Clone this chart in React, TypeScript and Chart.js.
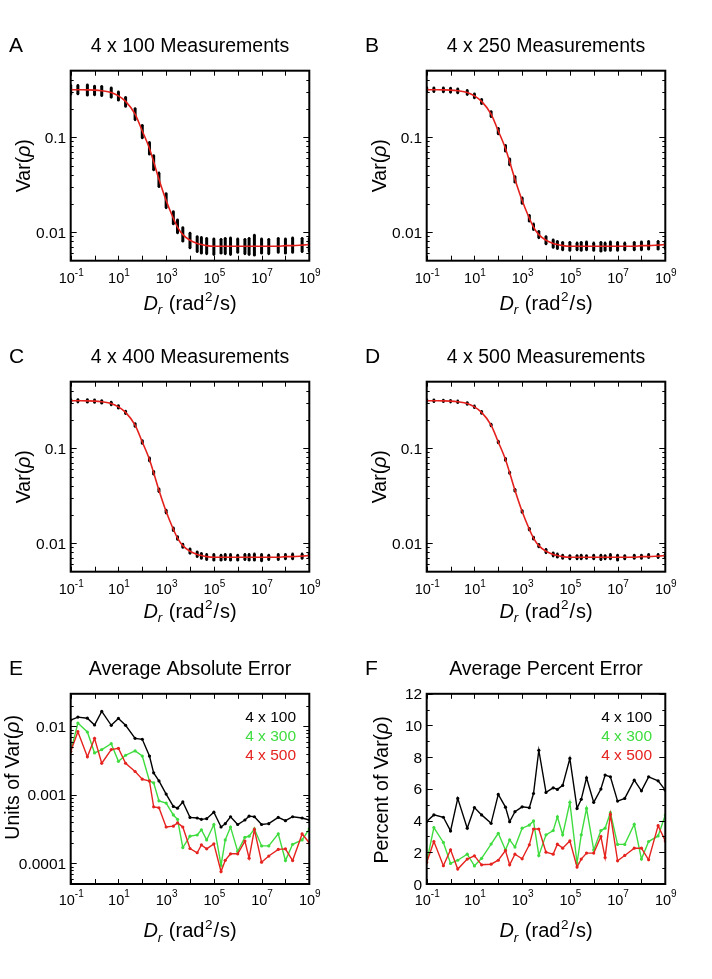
import React, { useEffect, useRef } from "react";
import { Chart, registerables } from "chart.js";

Chart.register(...registerables);

const FONT = '"Liberation Sans", Arial, Helvetica, sans-serif';

// ---------- data ----------
const diffusionRates = [
  0.1, 0.2, 0.5, 1, 2, 5, 10, 20, 50, 100,
  200, 300, 500,
  1e3, 2e3, 3e3, 5e3,
  1e4, 2e4, 3e4, 5e4,
  1e5, 2e5, 3e5, 5e5,
  1e6, 2e6, 3e6, 5e6,
  1e7, 2e7, 5e7,
  1e8, 2e8, 5e8,
  1e9,
];

const fitVar = [
  0.316, 0.315, 0.314, 0.312, 0.307, 0.295, 0.272, 0.238, 0.175, 0.116,
  0.076, 0.055, 0.036,
  0.0215, 0.014, 0.0113, 0.0094,
  0.0082, 0.0076, 0.0074, 0.0072,
  0.0071, 0.0071, 0.0071, 0.0071,
  0.0071, 0.0071, 0.0071, 0.0071,
  0.0071, 0.0071, 0.0071,
  0.0072, 0.0072, 0.0073,
  0.0074,
];

const lowA = [0.282, 0.285, 0.276, 0.278, 0.272, 0.262, 0.245, 0.21, 0.152, 0.098, 0.066, 0.045, 0.03, 0.018, 0.0122, 0.0098, 0.008, 0.0068, 0.0062, 0.006, 0.0059, 0.0058, 0.006, 0.0059, 0.0058, 0.0061, 0.0059, 0.0058, 0.0057, 0.006, 0.0059, 0.0061, 0.006, 0.0061, 0.0062, 0.0063];
const highA = [0.352, 0.35, 0.355, 0.345, 0.342, 0.33, 0.3, 0.262, 0.2, 0.133, 0.088, 0.064, 0.042, 0.0255, 0.0165, 0.0135, 0.0112, 0.0098, 0.009, 0.0088, 0.0086, 0.0085, 0.0084, 0.0086, 0.0087, 0.0085, 0.0084, 0.0086, 0.0093, 0.0085, 0.0084, 0.0086, 0.0085, 0.0087, 0.0086, 0.0086];

const lowB = [0.3, 0.3, 0.298, 0.296, 0.292, 0.28, 0.258, 0.225, 0.164, 0.108, 0.071, 0.051, 0.0335, 0.02, 0.013, 0.0106, 0.0087, 0.0075, 0.0069, 0.0067, 0.0065, 0.0064, 0.0065, 0.0064, 0.0065, 0.0064, 0.0063, 0.0064, 0.0064, 0.0064, 0.0065, 0.0065, 0.0065, 0.0066, 0.0066, 0.0067];
const highB = [0.332, 0.33, 0.331, 0.328, 0.322, 0.31, 0.286, 0.25, 0.186, 0.124, 0.082, 0.059, 0.0385, 0.023, 0.015, 0.0122, 0.0102, 0.009, 0.0083, 0.008, 0.0078, 0.0078, 0.0077, 0.0078, 0.0079, 0.0077, 0.0078, 0.0077, 0.0079, 0.0078, 0.0077, 0.0078, 0.0079, 0.008, 0.008, 0.008];

const lowC = [0.306, 0.305, 0.304, 0.302, 0.297, 0.285, 0.263, 0.23, 0.169, 0.112, 0.073, 0.053, 0.0347, 0.0207, 0.0135, 0.0109, 0.009, 0.0078, 0.0072, 0.0069, 0.0067, 0.0066, 0.0066, 0.0067, 0.0066, 0.0066, 0.0067, 0.0066, 0.0066, 0.0065, 0.0067, 0.0067, 0.0068, 0.0068, 0.0069, 0.007];
const highC = [0.326, 0.325, 0.324, 0.322, 0.317, 0.305, 0.281, 0.246, 0.181, 0.12, 0.079, 0.057, 0.0373, 0.0223, 0.0145, 0.0117, 0.0098, 0.0087, 0.0081, 0.0078, 0.0076, 0.0076, 0.0075, 0.0076, 0.0076, 0.0075, 0.0076, 0.0076, 0.0077, 0.0076, 0.0075, 0.0076, 0.0076, 0.0077, 0.0077, 0.0078];

const lowD = [0.309, 0.308, 0.307, 0.305, 0.3, 0.288, 0.266, 0.232, 0.171, 0.113, 0.074, 0.054, 0.0352, 0.021, 0.0137, 0.011, 0.0091, 0.0079, 0.0073, 0.0071, 0.0069, 0.0068, 0.0068, 0.0068, 0.0069, 0.0068, 0.0067, 0.0068, 0.0068, 0.0066, 0.0068, 0.0069, 0.0069, 0.007, 0.007, 0.0071];
const highD = [0.323, 0.322, 0.321, 0.319, 0.314, 0.302, 0.278, 0.244, 0.179, 0.119, 0.078, 0.056, 0.0368, 0.022, 0.0143, 0.0116, 0.0097, 0.0086, 0.0079, 0.0077, 0.0075, 0.0074, 0.0074, 0.0075, 0.0074, 0.0075, 0.0075, 0.0074, 0.0076, 0.0075, 0.0074, 0.0075, 0.0075, 0.0076, 0.0076, 0.0077];

const absErr100 = [0.0124, 0.0137, 0.0132, 0.0105, 0.0166, 0.0104, 0.0131, 0.0104, 0.0067, 0.0065, 0.0037, 0.0021, 0.0016, 0.00103, 0.00068, 0.00064, 0.00079, 0.00047, 0.00046, 0.00044, 0.00045, 0.00056, 0.00034, 0.00038, 0.00048, 0.00037, 0.00043, 0.00049, 0.00048, 0.00037, 0.00038, 0.00047, 0.00042, 0.00048, 0.00046, 0.00043];
const absErr300 = [0.0043, 0.0112, 0.0083, 0.0041, 0.0046, 0.0056, 0.0031, 0.0038, 0.0044, 0.0037, 0.0016, 0.0015, 0.00082, 0.00076, 0.00051, 0.00044, 0.00017, 0.00025, 0.00026, 0.00031, 0.00022, 0.00037, 0.000094, 0.00022, 0.00034, 0.00015, 0.00024, 0.00025, 0.00032, 0.00018, 0.00018, 0.00027, 0.00011, 0.00019, 0.00022, 0.00032];
const absErr500 = [0.0043, 0.0084, 0.0036, 0.0067, 0.0029, 0.0046, 0.0048, 0.0029, 0.0022, 0.0017, 0.0016, 0.00067, 0.00065, 0.00034, 0.00035, 0.00039, 0.00034, 0.000165, 0.000143, 0.000186, 0.000163, 0.000193, 0.000076, 0.000111, 0.000138, 0.000138, 0.000212, 0.000119, 0.000312, 0.000104, 0.000128, 0.00016, 0.000163, 0.00011, 0.000269, 0.0002];

const pctErr100 = [3.94, 4.36, 4.21, 3.35, 5.4, 3.52, 4.82, 4.36, 3.83, 5.65, 4.85, 3.93, 4.56, 4.87, 4.81, 5.71, 8.44, 5.78, 6.07, 5.97, 6.22, 7.92, 4.77, 5.34, 6.7, 5.15, 5.99, 6.87, 6.76, 5.23, 5.4, 6.55, 5.88, 6.76, 6.51, 5.92];
const pctErr300 = [1.4, 3.56, 2.62, 1.3, 1.5, 1.88, 1.14, 1.62, 2.52, 3.2, 2.15, 2.78, 2.33, 3.52, 3.72, 3.98, 1.8, 3.1, 3.37, 4.24, 3.1, 5.15, 1.32, 3.1, 4.77, 2.15, 3.37, 3.52, 4.5, 2.5, 2.5, 3.77, 1.57, 2.68, 3.03, 4.35];
const pctErr500 = [1.36, 2.68, 1.15, 2.16, 0.94, 1.57, 1.78, 1.21, 1.25, 1.5, 2.11, 1.21, 1.88, 1.59, 2.47, 3.47, 3.47, 2.01, 1.88, 2.51, 2.26, 2.72, 1.07, 1.57, 1.95, 1.95, 2.99, 1.67, 4.39, 1.46, 1.8, 2.26, 2.26, 1.53, 3.68, 2.72];

const xDecades = [-1, 0, 1, 2, 3, 4, 5, 6, 7, 8, 9];
const xLabelExponents = ["-1", "1", "3", "5", "7", "9"];
const varTicks = [0.01, 0.1];
const varTickLabels = ["0.01", "0.1"];
const absTicks = [0.0001, 0.001, 0.01];
const absTickLabels = ["0.0001", "0.001", "0.01"];
const pctTicks = [0, 2, 4, 6, 8, 10, 12];
const pctTickLabels = ["0", "2", "4", "6", "8", "10", "12"];
const legendLabels = ["4 x 100", "4 x 300", "4 x 500"];
const seriesColors = ["#000000", "#3fdc3f", "#e5231f"];
const FIT_RED = "#e3201c";

// ---------- drawing helpers ----------
type Run = { t: string; size: number; italic?: boolean; dy?: number; gap?: number };

const fontOf = (size: number, italic?: boolean) => `${italic ? "italic " : ""}${size}px ${FONT}`;

function runsWidth(ctx: CanvasRenderingContext2D, runs: Run[]) {
  let w = 0;
  for (const r of runs) {
    ctx.font = fontOf(r.size, r.italic);
    w += (r.gap || 0) + ctx.measureText(r.t).width;
  }
  return w;
}

function drawRuns(ctx: CanvasRenderingContext2D, runs: Run[], x: number, y: number, align: "left" | "center" | "right") {
  const w = runsWidth(ctx, runs);
  let cx = align === "center" ? x - w / 2 : align === "right" ? x - w : x;
  ctx.textAlign = "left";
  ctx.textBaseline = "alphabetic";
  for (const r of runs) {
    cx += r.gap || 0;
    ctx.font = fontOf(r.size, r.italic);
    ctx.fillText(r.t, cx, y + (r.dy || 0));
    cx += ctx.measureText(r.t).width;
  }
}

function logMinor(min: number, max: number) {
  const out: number[] = [];
  for (let d = Math.floor(Math.log10(min)); d <= Math.ceil(Math.log10(max)); d++) {
    for (let m = 2; m <= 9; m++) {
      const v = m * Math.pow(10, d);
      if (v > min * 1.0001 && v < max * 0.9999) out.push(v);
    }
  }
  return out;
}

type PanelSpec = {
  left: number;
  top: number;
  height: number;
  frameTop: number;
  frameBottom: number;
  tickBase: number;
  titleBase: number;
  letter: string;
  title: string;
  yTitle: Run[];
  yTitleX: number;
  yTitleDy: number;
  yType: "logarithmic" | "linear";
  yMin: number;
  yMax: number;
  yTicks: number[];
  yTickLabels: string[];
  yMinor: number[];
  datasets: any[];
  legend: boolean;
};

const FRAME_LEFT = 70.7;
const FRAME_RIGHT = 309.3;
const PANEL_W = 356;

function makeDecor(spec: PanelSpec) {
  return {
    id: "decor" + spec.letter,
    afterDraw(chart: any) {
      const ctx: CanvasRenderingContext2D = chart.ctx;
      const { left, right, top, bottom } = chart.chartArea;
      const xs = chart.scales.x;
      const ys = chart.scales.y;
      ctx.save();
      ctx.strokeStyle = "#000";
      ctx.fillStyle = "#000";
      const line = (x1: number, y1: number, x2: number, y2: number) => {
        ctx.beginPath();
        ctx.moveTo(x1, y1);
        ctx.lineTo(x2, y2);
        ctx.stroke();
      };
      ctx.lineWidth = 1;
      for (const d of xDecades) {
        const px = Math.round(xs.getPixelForValue(Math.pow(10, d))) + 0.5;
        line(px, bottom, px, bottom - 5);
        line(px, top, px, top + 5);
      }
      for (const v of spec.yTicks) {
        const py = Math.round(ys.getPixelForValue(v)) + 0.5;
        line(left, py, left + 6, py);
        line(right, py, right - 6, py);
      }
      for (const v of spec.yMinor) {
        const py = Math.round(ys.getPixelForValue(v)) + 0.5;
        line(left, py, left + 3, py);
        line(right, py, right - 3, py);
      }
      ctx.lineWidth = 2;
      ctx.strokeRect(left, top, right - left, bottom - top);

      // x tick labels
      xLabelExponents.forEach((e) => {
        const px = xs.getPixelForValue(Math.pow(10, Number(e)));
        drawRuns(ctx, [{ t: "10", size: 14.5 }, { t: e, size: 10, dy: -7.2 }], px + 0.5, bottom + spec.tickBase, "center");
      });
      // y tick labels
      spec.yTicks.forEach((v, i) => {
        const py = ys.getPixelForValue(v);
        drawRuns(ctx, [{ t: spec.yTickLabels[i], size: 15.5 }], left - 4.5, py + 5.5, "right");
      });
      // x axis title
      const cxMid = (left + right) / 2;
      drawRuns(
        ctx,
        [
          { t: "D", size: 20, italic: true },
          { t: "r", size: 13.5, italic: true, dy: 4.5 },
          { t: "(rad", size: 20, gap: 6.5 },
          { t: "2", size: 13.5, dy: -8.5, gap: 0.5 },
          { t: "/", size: 20, gap: 1 },
          { t: "s)", size: 20, gap: 1 },
        ],
        cxMid,
        bottom + spec.titleBase,
        "center"
      );
      // y axis title (rotated)
      ctx.save();
      ctx.translate(spec.yTitleX, (top + bottom) / 2 + spec.yTitleDy);
      ctx.rotate(-Math.PI / 2);
      drawRuns(ctx, spec.yTitle, 0, 5, "center");
      ctx.restore();
      // panel title + letter
      drawRuns(ctx, [{ t: spec.title, size: 19.5 }], cxMid, 51.5, "center");
      drawRuns(ctx, [{ t: spec.letter, size: 21 }], 9, 52, "left");
      // legend
      if (spec.legend) {
        legendLabels.forEach((lab, i) => {
          ctx.fillStyle = seriesColors[i];
          drawRuns(ctx, [{ t: lab, size: 15.5 }], 296, top + 27.7 + i * 19.3, "right");
        });
      }
      ctx.restore();
    },
  };
}

function Panel({ spec }: { spec: PanelSpec }) {
  const ref = useRef<HTMLCanvasElement | null>(null);
  useEffect(() => {
    if (!ref.current) return;
    const chart = new Chart(ref.current, {
      type: "line",
      data: { datasets: spec.datasets },
      options: {
        responsive: false,
        maintainAspectRatio: false,
        animation: false,
        events: [],
        layout: {
          padding: {
            left: FRAME_LEFT,
            right: PANEL_W - FRAME_RIGHT,
            top: spec.frameTop,
            bottom: spec.height - spec.frameBottom,
          },
        },
        plugins: { legend: { display: false }, tooltip: { enabled: false }, title: { display: false } },
        scales: {
          x: { type: "logarithmic", min: 0.1, max: 1e9, display: false },
          y: { type: spec.yType, min: spec.yMin, max: spec.yMax, display: false },
        },
      } as any,
      plugins: [makeDecor(spec)],
    });
    return () => chart.destroy();
  }, []);
  return (
    <canvas
      ref={ref}
      width={PANEL_W}
      height={spec.height}
      style={{ position: "absolute", left: spec.left, top: spec.top, width: PANEL_W, height: spec.height }}
    />
  );
}

// ---------- dataset builders ----------
function fitDataset() {
  return {
    data: diffusionRates.map((x, i) => ({ x, y: fitVar[i] })),
    borderColor: FIT_RED,
    borderWidth: 1.6,
    pointRadius: 0,
    cubicInterpolationMode: "monotone",
    fill: false,
  };
}

function columnDataset(lo: number[], hi: number[]) {
  const pts: { x: number; y: number | null }[] = [];
  diffusionRates.forEach((x, i) => {
    pts.push({ x, y: lo[i] });
    pts.push({ x, y: hi[i] });
    pts.push({ x, y: null });
  });
  return {
    data: pts,
    borderColor: "#000",
    borderWidth: 3,
    borderCapStyle: "butt",
    pointRadius: 1.3,
    pointBorderWidth: 0,
    pointBackgroundColor: "#000",
    spanGaps: false,
    tension: 0,
    fill: false,
  };
}

function errorDatasets(series: number[][]) {
  const order = [2, 1, 0];
  return order.map((k) => ({
    data: diffusionRates.map((x, i) => ({ x, y: series[k][i] })),
    borderColor: seriesColors[k],
    borderWidth: 1.4,
    pointRadius: 1.6,
    pointBorderWidth: 0,
    pointBackgroundColor: seriesColors[k],
    tension: 0,
    fill: false,
  }));
}

const varTitle: Run[] = [{ t: "Var(", size: 19.5 }, { t: "ρ", size: 19.5, italic: true }, { t: ")", size: 19.5 }];

function varPanel(letter: string, title: string, left: number, top: number, lo: number[], hi: number[], titleBase: number): PanelSpec {
  return {
    left,
    top,
    height: 330,
    frameTop: 70.7,
    frameBottom: 260.7,
    tickBase: 22.4,
    titleBase,
    letter,
    title,
    yTitle: varTitle,
    yTitleX: 25,
    yTitleDy: 0,
    yType: "logarithmic",
    yMin: 0.005,
    yMax: 0.5,
    yTicks: varTicks,
    yTickLabels: varTickLabels,
    yMinor: logMinor(0.005, 0.5),
    datasets: [fitDataset(), columnDataset(lo, hi)],
    legend: false,
  };
}

const panels: PanelSpec[] = [
  varPanel("A", "4 x 100 Measurements", 0, 0, lowA, highA, 49),
  varPanel("B", "4 x 250 Measurements", 356, 0, lowB, highB, 49),
  varPanel("C", "4 x 400 Measurements", 0, 311, lowC, highC, 46),
  varPanel("D", "4 x 500 Measurements", 356, 311, lowD, highD, 46),
  {
    left: 0,
    top: 622.5,
    height: 356.5,
    frameTop: 70.8,
    frameBottom: 261.5,
    tickBase: 20.5,
    titleBase: 53,
    letter: "E",
    title: "Average Absolute Error",
    yTitle: [{ t: "Units of Var(", size: 19.5 }, { t: "ρ", size: 19.5, italic: true }, { t: ")", size: 19.5 }],
    yTitleX: 13.5,
    yTitleDy: -11.5,
    yType: "logarithmic",
    yMin: 0.00005,
    yMax: 0.03,
    yTicks: absTicks,
    yTickLabels: absTickLabels,
    yMinor: logMinor(0.00005, 0.03),
    datasets: errorDatasets([absErr100, absErr300, absErr500]),
    legend: true,
  },
  {
    left: 356,
    top: 622.5,
    height: 356.5,
    frameTop: 70.8,
    frameBottom: 261.5,
    tickBase: 20.5,
    titleBase: 53,
    letter: "F",
    title: "Average Percent Error",
    yTitle: [{ t: "Percent of Var(", size: 19.5 }, { t: "ρ", size: 19.5, italic: true }, { t: ")", size: 19.5 }],
    yTitleX: 26.5,
    yTitleDy: 1,
    yType: "linear",
    yMin: 0,
    yMax: 12,
    yTicks: pctTicks,
    yTickLabels: pctTickLabels,
    yMinor: [1, 3, 5, 7, 9, 11],
    datasets: errorDatasets([pctErr100, pctErr300, pctErr500]),
    legend: true,
  },
];

export default function App() {
  return (
    <div style={{ position: "absolute", left: 0, top: 0, width: 712, height: 979, background: "#fff" }}>
      {panels.map((p) => (
        <Panel key={p.letter} spec={p} />
      ))}
    </div>
  );
}
